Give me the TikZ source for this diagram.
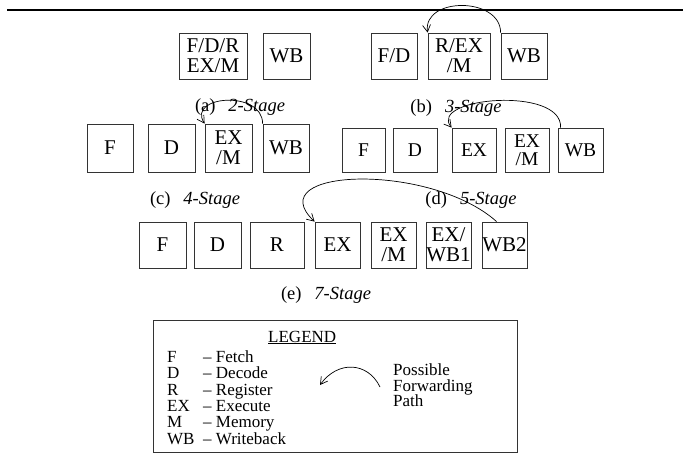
\documentclass[tikz,border=0pt]{standalone}
\usepackage{fontspec}
\setmainfont{Liberation Serif}
\usetikzlibrary{arrows.meta}
\usetikzlibrary{calc}

\tikzset{
	stagebox/.style={draw=black!80, line width=0.8pt, inner sep=0pt, align=center, minimum height=46},
	bigfont/.style={font=\fontsize{21}{20}\selectfont},
	smallfont/.style={font=\fontsize{19.5}{18}\selectfont},
	caption/.style={font=\fontsize{18.5}{18}\selectfont},
	legtext/.style={anchor=base west, inner sep=0pt, font=\fontsize{17}{16}\selectfont},
	fwd/.style={-{Straight Barb[length=7pt,width=8pt]}, line width=0.7pt},
}
\newcommand{\stagecap}[2]{(#1)\hspace{0.7em}\textit{#2}}

\begin{document}
\begin{tikzpicture}[x=1pt,y=-1pt]
		\useasboundingbox (0,0) rectangle (683,468);
		\draw[line width=2pt] (7,10) -- (683,10);

		% (a) 2 stages
		\node at (213,56) (a1) [stagebox, bigfont, minimum width=68] {F/D/R\\EX/M};
		\node at (286.5,56) (a2) [stagebox, bigfont, minimum width=47] {WB};
		\node at (240,107) (capa) [caption] {\stagecap{a}{2-Stage}};

		% (b) 3 stages
		\node at (394,56) (b1) [stagebox, bigfont, minimum width=46] {F/D};
		\node at (459,56) (b2) [stagebox, bigfont, minimum width=62] {R/EX\\/M};
		\node at (524,56) (b3) [stagebox, bigfont, minimum width=46] {WB};
		\node at (456,108) (capb) [caption] {\stagecap{b}{3-Stage}};
		\draw[fwd] (b3.north west) .. controls +(0,-36) and +(-5,-36) .. (b2.north west);

		% (c) 4 stages
		\node at (110,148) (c1) [stagebox, bigfont, minimum width=46, minimum height=48] {F};
		\node at (171.5,148) (c2) [stagebox, bigfont, minimum width=47, minimum height=48] {D};
		\node at (228.5,148) (c3) [stagebox, bigfont, minimum width=47, minimum height=48] {EX\\/M};
		\node at (286,148) (c4) [stagebox, bigfont, minimum width=46, minimum height=48] {WB};
		\node at (195,200) (capc) [caption] {\stagecap{c}{4-Stage}};
		\draw[fwd] (c4.north west) .. controls +(0,-34) and +(-18,-28) .. (c3.north west);

		% (d) 5 stages
		\node at (363.5,150) (d1) [stagebox, smallfont, minimum width=43, minimum height=44] {F};
		\node at (415,150) (d2) [stagebox, smallfont, minimum width=44, minimum height=44] {D};
		\node at (474,150) (d3) [stagebox, smallfont, minimum width=44, minimum height=44] {EX};
		\node at (527,150) (d4) [stagebox, smallfont, minimum width=44, minimum height=44] {EX\\/M};
		\node at (580.5,150) (d5) [stagebox, smallfont, minimum width=45, minimum height=44] {WB};
		\node at (471,200) (capd) [caption] {\stagecap{d}{5-Stage}};
		\draw[fwd] ($(d5.north west)+(3,0)$) .. controls +(2,-42) and +(-24,-30) .. (d3.north west);

		% (e) 7 stages
		\node at (162.5,245) (e1) [stagebox, bigfont, minimum width=47] {F};
		\node at (217.5,245) (e2) [stagebox, bigfont, minimum width=47] {D};
		\node at (277,245) (e3) [stagebox, bigfont, minimum width=54] {R};
		\node at (337.5,245) (e4) [stagebox, bigfont, minimum width=45] {EX};
		\node at (393.5,245) (e5) [stagebox, bigfont, minimum width=45] {EX\\/M};
		\node at (448.5,245) (e6) [stagebox, bigfont, minimum width=45] {EX/\\WB1};
		\node at (504.5,245) (e7) [stagebox, bigfont, minimum width=45] {WB2};
		\node at (326,295) (cape) [caption] {\stagecap{e}{7-Stage}};
		\draw[fwd] ($(e7.north west)+(15,0)$) .. controls (430,162) and (258,168) .. (e4.north west);

		% legend
		\node at (335,386) (legend) [draw=black!80, line width=0.8pt, minimum width=364, minimum height=132] {};
		\node at (268,342) (legtitle) [legtext] {\underline{LEGEND}};
		\foreach \ab/\nm [count=\i] in {F/Fetch, D/Decode, R/Register, EX/Execute, M/Memory, WB/Writeback}{
			\node at (167, {362.5+16.3*(\i-1)}) (ab\i) [legtext] {\ab};
			\node at (203, {362.5+16.3*(\i-1)}) (nm\i) [legtext] {-- \nm};
		}
		\node at (393,375.5) (pos1) [legtext] {Possible};
		\node at (393,391) (pos2) [legtext] {Forwarding};
		\node at (393,406.5) (pos3) [legtext] {Path};
		\coordinate (lgA) at (380,387);
		\coordinate (lgB) at (320,385);
		\draw[fwd] (lgA) .. controls (368,362) and (338,360) .. (lgB);
	\end{tikzpicture}
\end{document}
